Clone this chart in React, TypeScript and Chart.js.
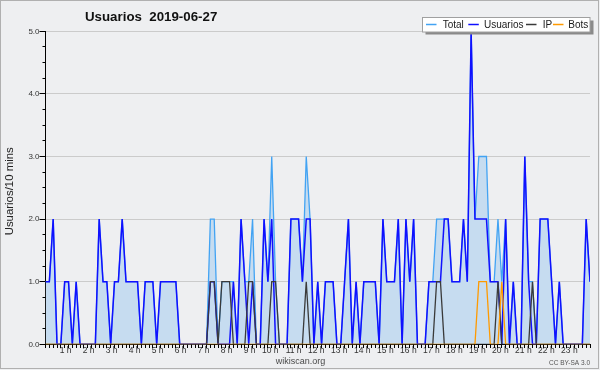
import React, { useEffect, useRef } from 'react';
import { Chart, registerables } from 'chart.js';

Chart.register(...registerables);

const TITLE = 'Usuarios  2019-06-27';
const Y_TITLE = 'Usuarios/10 mins';
const SITE = 'wikiscan.org';
const LICENSE = 'CC BY-SA 3.0';

const hourLabels = ['1 h', '2 h', '3 h', '4 h', '5 h', '6 h', '7 h', '8 h', '9 h', '10 h', '11 h', '12 h',
  '13 h', '14 h', '15 h', '16 h', '17 h', '18 h', '19 h', '20 h', '21 h', '22 h', '23 h'];
const yTickValues = [0, 1, 2, 3, 4, 5];

const seriesNames = ['Total', 'Usuarios', 'IP', 'Bots'];

const total = [
  1, 1, 2, 0, 0, 1, 1, 0, 1, 0, 0, 0,
  0, 0, 2, 1, 1, 0, 1, 1, 2, 1, 1, 1,
  1, 0, 1, 1, 1, 0, 1, 1, 1, 1, 1, 0,
  0, 0, 0, 0, 0, 0, 0, 2, 2, 0, 1, 1,
  1, 1, 0, 2, 1, 1, 2, 0, 0, 2, 1, 3,
  1, 0, 0, 0, 2, 2, 2, 1, 3, 2, 0, 1,
  0, 1, 1, 1, 0, 0, 1, 2, 0, 1, 0, 1,
  1, 1, 1, 0, 2, 1, 1, 1, 2, 0, 2, 1,
  2, 0, 0, 0, 1, 1, 2, 2, 2, 2, 1, 1,
  1, 2, 1, 5, 2, 3, 3, 3, 1, 1, 2, 1,
  2, 0, 1, 0, 0, 3, 1, 1, 0, 2, 2, 2,
  1, 0, 1, 0, 0, 0, 0, 0, 0, 2, 1,
];

const usuarios = [
  1, 1, 2, 0, 0, 1, 1, 0, 1, 0, 0, 0,
  0, 0, 2, 1, 1, 0, 1, 1, 2, 1, 1, 1,
  1, 0, 1, 1, 1, 0, 1, 1, 1, 1, 1, 0,
  0, 0, 0, 0, 0, 0, 0, 1, 1, 0, 0, 0,
  0, 1, 0, 2, 1, 0, 1, 0, 0, 2, 1, 2,
  0, 0, 0, 0, 2, 2, 2, 1, 2, 2, 0, 1,
  0, 1, 1, 1, 0, 0, 1, 2, 0, 1, 0, 1,
  1, 1, 1, 0, 2, 1, 1, 1, 2, 0, 2, 1,
  2, 0, 0, 0, 1, 1, 1, 1, 2, 2, 1, 1,
  1, 2, 1, 5, 2, 2, 2, 2, 1, 1, 1, 0,
  2, 0, 1, 0, 0, 3, 1, 0, 0, 2, 2, 2,
  1, 0, 1, 0, 0, 0, 0, 0, 0, 2, 1,
];

const ip = [
  0, 0, 0, 0, 0, 0, 0, 0, 0, 0, 0, 0,
  0, 0, 0, 0, 0, 0, 0, 0, 0, 0, 0, 0,
  0, 0, 0, 0, 0, 0, 0, 0, 0, 0, 0, 0,
  0, 0, 0, 0, 0, 0, 0, 1, 1, 0, 1, 1,
  1, 0, 0, 0, 0, 1, 1, 0, 0, 0, 0, 1,
  1, 0, 0, 0, 0, 0, 0, 0, 1, 0, 0, 0,
  0, 0, 0, 0, 0, 0, 0, 0, 0, 0, 0, 0,
  0, 0, 0, 0, 0, 0, 0, 0, 0, 0, 0, 0,
  0, 0, 0, 0, 0, 0, 1, 1, 0, 0, 0, 0,
  0, 0, 0, 0, 0, 0, 0, 0, 0, 0, 1, 0,
  0, 0, 0, 0, 0, 0, 0, 1, 0, 0, 0, 0,
  0, 0, 0, 0, 0, 0, 0, 0, 0, 0, 0,
];

const bots = [
  0, 0, 0, 0, 0, 0, 0, 0, 0, 0, 0, 0,
  0, 0, 0, 0, 0, 0, 0, 0, 0, 0, 0, 0,
  0, 0, 0, 0, 0, 0, 0, 0, 0, 0, 0, 0,
  0, 0, 0, 0, 0, 0, 0, 0, 0, 0, 0, 0,
  0, 0, 0, 0, 0, 0, 0, 0, 0, 0, 0, 0,
  0, 0, 0, 0, 0, 0, 0, 0, 0, 0, 0, 0,
  0, 0, 0, 0, 0, 0, 0, 0, 0, 0, 0, 0,
  0, 0, 0, 0, 0, 0, 0, 0, 0, 0, 0, 0,
  0, 0, 0, 0, 0, 0, 0, 0, 0, 0, 0, 0,
  0, 0, 0, 0, 0, 1, 1, 1, 0, 0, 0, 1,
  0, 0, 0, 0, 0, 0, 0, 0, 0, 0, 0, 0,
  0, 0, 0, 0, 0, 0, 0, 0, 0, 0, 0,
];

const COLORS = {
  bg: '#eeeff1',
  total: '#42a3f3',
  fill: '#c6dcf0',
  usuarios: '#1010ff',
  ip: '#3a3a3a',
  bots: '#ff9a00',
  grid: '#cbcbcb',
};

const FONT = '"Liberation Sans", Arial, sans-serif';

const decor = {
  id: 'decor',
  beforeDraw(chart: any) {
    const ctx = chart.ctx;
    ctx.save();
    ctx.fillStyle = COLORS.bg;
    ctx.fillRect(0, 0, chart.width, chart.height);
    ctx.restore();
  },
  afterDraw(chart: any) {
    const { ctx, chartArea, scales } = chart;
    const xs = scales.x;
    const ys = scales.y;
    ctx.save();

    // minor tick marks
    ctx.strokeStyle = '#000';
    ctx.lineWidth = 1;
    ctx.beginPath();
    const bottom = Math.round(chartArea.bottom - 0.5) + 0.5;
    for (let i = 0; i < total.length; i++) {
      const px = Math.round(xs.getPixelForValue(i) - 0.5) + 0.5;
      ctx.moveTo(px, bottom);
      ctx.lineTo(px, bottom + 3.5);
    }
    const left = Math.round(chartArea.left - 0.5) + 0.5;
    for (let k = 0; k < yTickValues.length - 1; k++) {
      for (let q = 1; q < 4; q++) {
        const v = yTickValues[k] + (q * (yTickValues[k + 1] - yTickValues[k])) / 4;
        const py = Math.round(ys.getPixelForValue(v) - 0.5) + 0.5;
        ctx.moveTo(left - 3, py);
        ctx.lineTo(left, py);
      }
    }
    ctx.stroke();

    // title
    ctx.fillStyle = '#111';
    ctx.font = `bold 13.3px ${FONT}`;
    ctx.textAlign = 'left';
    ctx.textBaseline = 'alphabetic';
    ctx.fillText(TITLE, 85, 20.7);

    // y title
    ctx.save();
    ctx.translate(12.5, (chartArea.top + chartArea.bottom) / 2 + 3.5);
    ctx.rotate(-Math.PI / 2);
    ctx.font = `11.4px ${FONT}`;
    ctx.textAlign = 'center';
    ctx.fillStyle = '#222';
    ctx.fillText(Y_TITLE, 0, 0);
    ctx.restore();

    // footer
    ctx.font = `9px ${FONT}`;
    ctx.fillStyle = '#4a4a4a';
    ctx.textAlign = 'center';
    ctx.fillText(SITE, 300.5, 363.5);
    ctx.font = `6.5px ${FONT}`;
    ctx.fillStyle = '#555';
    ctx.textAlign = 'right';
    ctx.fillText(LICENSE, 590, 365.3);

    // legend
    ctx.fillStyle = '#8a8a8a';
    ctx.fillRect(425.5, 20.5, 168, 14);
    ctx.fillStyle = '#ffffff';
    ctx.fillRect(422.5, 17.5, 167.5, 14.5);
    ctx.strokeStyle = '#a0a0a0';
    ctx.lineWidth = 1;
    ctx.strokeRect(422.5, 17.5, 167.5, 14.5);
    const lineX = [426, 468.3, 526, 553];
    const textX = [442.7, 484, 542.7, 568.3];
    ctx.font = `10px ${FONT}`;
    ctx.textAlign = 'left';
    const ds = chart.data.datasets;
    for (let k = 0; k < ds.length; k++) {
      ctx.strokeStyle = ds[k].borderColor;
      ctx.lineWidth = 1.5;
      ctx.beginPath();
      ctx.moveTo(lineX[k], 24.5);
      ctx.lineTo(lineX[k] + 10.5, 24.5);
      ctx.stroke();
      ctx.fillStyle = '#1a1a1a';
      ctx.fillText(ds[k].label, textX[k], 28.3);
    }

    // frame
    ctx.strokeStyle = '#b0b0b0';
    ctx.lineWidth = 1;
    ctx.strokeRect(0.5, 0.5, 598, 368);
    ctx.restore();
  },
};

export default function App() {
  const ref = useRef<HTMLCanvasElement>(null);
  useEffect(() => {
    document.body.style.margin = '0';
    const canvas = ref.current as HTMLCanvasElement;
    Chart.defaults.font.family = FONT;
    const labels = total.map((_, i) => i);
    const mk = (label: string, data: number[], color: string, order: number, extra: any = {}) => ({
      label,
      data,
      borderColor: color,
      borderWidth: 1.5,
      pointRadius: 0,
      pointHoverRadius: 0,
      tension: 0,
      fill: false,
      order,
      ...extra,
    });
    const chart = new Chart(canvas, {
      type: 'line',
      data: {
        labels,
        datasets: [
          mk(seriesNames[0], total, COLORS.total, 4, { fill: 'origin', backgroundColor: COLORS.fill, borderWidth: 1.3 }),
          mk(seriesNames[1], usuarios, COLORS.usuarios, 3),
          mk(seriesNames[2], ip, COLORS.ip, 2, { borderWidth: 1.3 }),
          mk(seriesNames[3], bots, COLORS.bots, 1, { borderWidth: 1.3 }),
        ],
      },
      options: {
        responsive: false,
        animation: false,
        devicePixelRatio: 1,
        events: [],
        layout: { padding: { left: 0, right: 10, top: 31.3, bottom: 0 } },
        plugins: { legend: { display: false }, tooltip: { enabled: false }, title: { display: false } },
        scales: {
          x: {
            type: 'linear',
            min: 0,
            max: total.length - 1,
            afterFit: (s: any) => { s.height = 370 - 344.3; },
            afterBuildTicks: (s: any) => { s.ticks = hourLabels.map((_, k) => ({ value: (k + 1) * 6 })); },
            grid: { display: true, drawOnChartArea: false, drawTicks: false },
            border: { display: true, color: '#000', width: 1 },
            ticks: {
              autoSkip: false,
              maxRotation: 0,
              align: 'end',
              labelOffset: 3,
              padding: 1,
              color: '#333',
              font: { size: 8.5, family: FONT },
              callback: (v: any) => hourLabels[Math.round(Number(v) / 6) - 1] ?? '',
            },
          },
          y: {
            type: 'linear',
            min: 0,
            max: 5,
            afterFit: (s: any) => { s.width = 45.5; },
            afterBuildTicks: (s: any) => { s.ticks = yTickValues.map((v) => ({ value: v })); },
            grid: {
              color: (c: any) => (c.tick && c.tick.value === 0 ? 'rgba(0,0,0,0)' : COLORS.grid),
              tickColor: '#000',
              tickLength: 6,
              drawTicks: true,
            },
            border: { display: true, color: '#000', width: 1 },
            ticks: {
              padding: 0,
              color: '#333',
              font: { size: 8, family: FONT },
              callback: (v: any) => Number(v).toFixed(1),
            },
          },
        },
      },
      plugins: [decor],
    } as any);
    return () => chart.destroy();
  }, []);
  return (
    <div style={{ width: 600, height: 370 }}>
      <canvas ref={ref} width={600} height={370} style={{ display: 'block' }} />
    </div>
  );
}
